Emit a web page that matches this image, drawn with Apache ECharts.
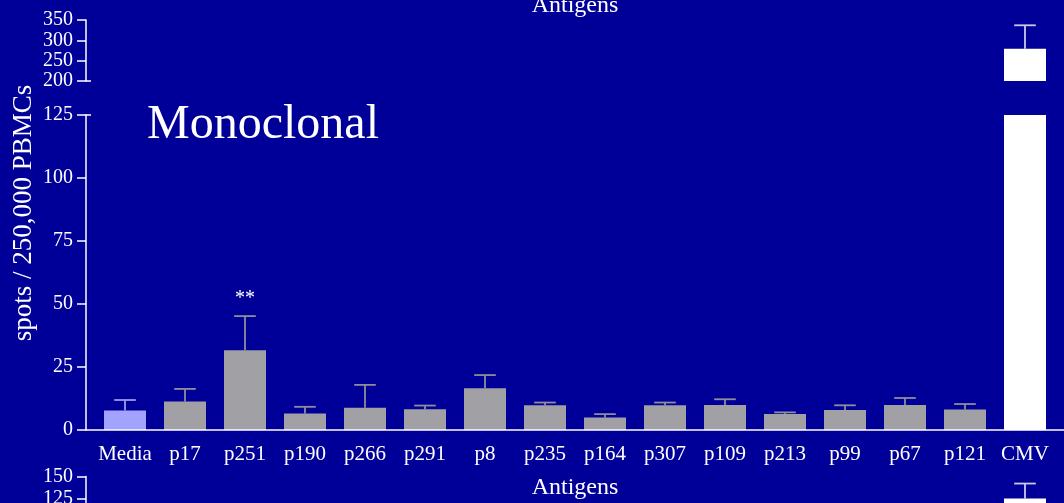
<!DOCTYPE html>
<html>
<head>
<meta charset="utf-8">
<script src="https://cdn.jsdelivr.net/npm/echarts@6/dist/echarts.min.js"></script>
<style>
  html, body { margin: 0; padding: 0; background: #000099; }
  #chart { width: 1064px; height: 503px; }
</style>
</head>
<body>
<div id="chart"></div>
<script>
// Antigen panel (monoclonal): mean spots and upper error bound per antigen
const categories = ['Media', 'p17', 'p251', 'p190', 'p266', 'p291', 'p8', 'p235',
                    'p164', 'p307', 'p109', 'p213', 'p99', 'p67', 'p121', 'CMV'];
const spotMeans    = [7.7, 11.3, 31.6, 6.5, 8.8, 8.2, 16.6, 9.8, 5.0, 9.8, 9.9, 6.3, 7.9, 9.9, 8.1, 279];
const spotUpperErr = [11.9, 16.3, 45.2, 9.2, 17.9, 9.7, 21.8, 10.9, 6.3, 10.9, 12.2, 7.0, 9.8, 12.7, 10.3, 337];
const significance = ['', '', '**', '', '', '', '', '', '', '', '', '', '', '', '', ''];

// Broken value axis: lower and upper segments
const lowerTicks = [0, 25, 50, 75, 100, 125];
const upperTicks = [200, 250, 300, 350];

// Following panel (only its top edge is in view)
const panel2Means    = [null, null, null, null, null, null, null, null, null, null, null, null, null, null, null, 125];
const panel2UpperErr = [null, null, null, null, null, null, null, null, null, null, null, null, null, null, null, 142];
const panel2Ticks = [100, 125, 150];

const SERIF = "'Liberation Serif', 'Times New Roman', serif";
const BG = '#000099';

function barColor(i) {
  if (i === 0) return '#a2a2ff';
  if (i === categories.length - 1) return '#ffffff';
  return '#a1a0a5';
}
function errColor(i) {
  if (i === 0) return '#9c9cf0';
  if (i === categories.length - 1) return '#cacae6';
  return '#8e8e98';
}

const chart = echarts.init(document.getElementById('chart'), null, { renderer: 'canvas' });

const gridLeft = 95, gridRight = 9, axisOffset = 9;
const grids = [
  { left: gridLeft, right: gridRight, top: 20, height: 61, outerBoundsMode: 'none' },
  { left: gridLeft, right: gridRight, top: 115, height: 315, outerBoundsMode: 'none' },
  { left: gridLeft, right: gridRight, top: 476.5, height: 44, outerBoundsMode: 'none' }
];

function yAxisFor(gridIndex, ticks) {
  const step = ticks[1] - ticks[0];
  return {
    type: 'value', gridIndex,
    min: ticks[0], max: ticks[ticks.length - 1], interval: step,
    offset: axisOffset,
    splitLine: { show: false },
    axisLine: { show: true, lineStyle: { color: '#ffffff', width: 1.5 } },
    axisTick: { show: true, length: 9, lineStyle: { color: '#ffffff', width: 1.5 } },
    axisLabel: { color: '#ffffff', fontFamily: SERIF, fontSize: 20, margin: 13,
                 showMinLabel: true, showMaxLabel: true }
  };
}

function hiddenX(gridIndex) {
  return {
    type: 'category', gridIndex, data: categories,
    axisLine: { show: false }, axisTick: { show: false }, axisLabel: { show: false }
  };
}

function barSeries(axisIndex, values, keep) {
  return {
    type: 'bar', xAxisIndex: axisIndex, yAxisIndex: axisIndex,
    barWidth: '70%',
    data: values.map((v, i) => (v == null || !keep(v)) ? '-' :
      { value: v, itemStyle: { color: barColor(i) } }),
    animation: false
  };
}

function errorSeries(axisIndex, means, errs, keep) {
  const items = [];
  means.forEach((m, i) => {
    if (m == null || errs[i] == null) return;
    if (keep(m, errs[i])) items.push([i, m, errs[i]]);
  });
  return {
    type: 'custom', xAxisIndex: axisIndex, yAxisIndex: axisIndex,
    data: items,
    encode: { x: 0, y: [1, 2] },
    clip: false,
    animation: false,
    renderItem(params, api) {
      const idx = api.value(0);
      const top = api.coord([idx, api.value(2)]);
      const base = api.coord([idx, api.value(1)]);
      const half = api.size([1, 0])[0] * 0.18;
      const style = { stroke: errColor(idx), lineWidth: 1.8 };
      const children = [
        { type: 'line', shape: { x1: top[0], y1: base[1], x2: top[0], y2: top[1] }, style },
        { type: 'line', shape: { x1: top[0] - half, y1: top[1], x2: top[0] + half, y2: top[1] }, style }
      ];
      const mark = axisIndex === 1 ? significance[idx] : '';
      if (mark) {
        children.push({
          type: 'text',
          style: { text: mark, x: top[0], y: top[1] - 17, align: 'center', verticalAlign: 'middle',
                   fill: '#ffffff', font: '20px ' + SERIF }
        });
      }
      return { type: 'group', children };
    }
  };
}

const lowerMax = lowerTicks[lowerTicks.length - 1];
const upperMin = upperTicks[0];

const option = {
  backgroundColor: BG,
  animation: false,
  grid: grids,
  xAxis: [
    hiddenX(0),
    {
      type: 'category', gridIndex: 1, data: categories,
      axisLine: { show: false }, axisTick: { show: false },
      axisLabel: { color: '#ffffff', fontFamily: SERIF, fontSize: 21, margin: 14, interval: 0 },
      name: 'Antigens', nameLocation: 'middle', nameGap: 46,
      nameTextStyle: { color: '#ffffff', fontFamily: SERIF, fontSize: 24 }
    },
    hiddenX(2)
  ],
  yAxis: [
    yAxisFor(0, upperTicks),
    yAxisFor(1, lowerTicks),
    yAxisFor(2, panel2Ticks)
  ],
  series: [
    barSeries(1, spotMeans, () => true),
    barSeries(0, spotMeans, v => v >= upperMin),
    errorSeries(1, spotMeans, spotUpperErr, (m, e) => e <= lowerMax),
    errorSeries(0, spotMeans, spotUpperErr, (m, e) => m >= upperMin),
    barSeries(2, panel2Means, () => true),
    errorSeries(2, panel2Means, panel2UpperErr, () => true)
  ],
  graphic: [
    // baseline of the lower segment, running past both ends of the category band
    { type: 'line', shape: { x1: gridLeft - axisOffset, y1: 430, x2: 1064, y2: 430 },
      style: { stroke: '#ffffff', lineWidth: 1.5 }, z: 10 },
    // break marks where the value axis is split
    { type: 'line', shape: { x1: gridLeft - axisOffset, y1: 115, x2: gridLeft - axisOffset + 5, y2: 115 },
      style: { stroke: '#ffffff', lineWidth: 1.5 }, z: 10 },
    { type: 'line', shape: { x1: gridLeft - axisOffset, y1: 81, x2: gridLeft - axisOffset + 5, y2: 81 },
      style: { stroke: '#ffffff', lineWidth: 1.5 }, z: 10 },
    // axis title
    { type: 'text', x: 24, y: 213, rotation: Math.PI / 2,
      style: { text: 'spots / 250,000 PBMCs', align: 'center', verticalAlign: 'middle',
               fill: '#ffffff', font: '27px ' + SERIF } },
    // panel heading
    { type: 'text', x: 147, y: 125,
      style: { text: 'Monoclonal', align: 'left', verticalAlign: 'middle',
               fill: '#ffffff', font: '48px ' + SERIF } },
    // category-axis title of the panel above
    { type: 'text', x: 575, y: 6,
      style: { text: 'Antigens', align: 'center', verticalAlign: 'middle',
               fill: '#ffffff', font: '24px ' + SERIF } }
  ]
};

chart.setOption(option);
</script>
</body>
</html>
